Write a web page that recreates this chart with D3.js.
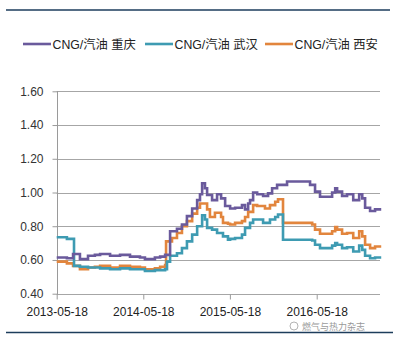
<!DOCTYPE html>
<html>
<head>
<meta charset="utf-8">
<script src="https://cdn.jsdelivr.net/npm/d3@7/dist/d3.min.js"></script>
<style>
html,body{margin:0;padding:0;background:#fff;}
svg{display:block;}
text{font-family:"Liberation Sans","Noto Sans CJK SC",sans-serif;}
</style>
</head>
<body>
<svg id="chart" width="393" height="344"></svg>
<script>
const dates = ["2013-05-18","2013-06-30","2013-07-13","2013-07-26","2013-07-30","2013-08-24","2013-09-27","2013-10-26","2013-11-17","2013-12-29",
"2014-02-09","2014-03-23","2014-05-04","2014-05-25","2014-07-06","2014-07-28","2014-08-18","2014-08-22","2014-08-26","2014-09-08",
"2014-09-16","2014-10-07","2014-10-28","2014-11-18","2014-12-10","2014-12-31","2015-01-12","2015-01-21","2015-02-02","2015-02-11",
"2015-02-23","2015-03-04","2015-03-16","2015-03-25","2015-04-11","2015-04-19","2015-04-28","2015-05-10","2015-05-19","2015-06-09",
"2015-07-08","2015-07-21","2015-08-03","2015-08-11","2015-08-24","2015-09-10","2015-10-05","2015-10-13","2015-10-26","2015-11-03",
"2015-11-12","2015-11-25","2015-12-03","2015-12-07","2015-12-28","2016-01-14","2016-04-20","2016-04-29","2016-05-11","2016-06-01",
"2016-07-22","2016-08-04","2016-08-12","2016-09-02","2016-09-23","2016-10-19","2016-11-13","2016-11-26","2016-12-08","2016-12-29",
"2017-01-19","2017-02-14"];

const chongqing = [0.615,0.61,0.61,0.635,0.635,0.605,0.625,0.63,0.635,0.625,
0.63,0.62,0.615,0.605,0.615,0.62,0.63,0.63,0.63,0.77,
0.77,0.785,0.81,0.86,0.905,0.955,0.99,1.055,1.025,0.985,
0.985,0.955,0.955,0.99,0.965,0.965,0.92,0.92,0.905,0.91,
0.925,0.90,0.935,0.955,1.0,0.99,0.98,0.98,0.995,0.995,
1.025,1.025,1.045,1.045,1.045,1.065,1.045,1.045,1.005,0.975,
1.0,1.025,1.005,0.98,0.99,0.955,0.99,0.965,0.91,0.89,
0.90,0.90];

const wuhan = [0.735,0.725,0.725,0.725,0.565,0.56,0.555,0.555,0.55,0.545,
0.55,0.545,0.545,0.535,0.54,0.54,0.545,0.545,0.59,0.625,
0.625,0.64,0.67,0.71,0.75,0.80,0.80,0.865,0.84,0.79,
0.79,0.78,0.78,0.76,0.76,0.74,0.74,0.72,0.725,0.73,
0.75,0.79,0.79,0.82,0.84,0.84,0.82,0.82,0.82,0.84,
0.84,0.855,0.855,0.87,0.72,0.72,0.72,0.715,0.69,0.67,
0.685,0.70,0.69,0.67,0.675,0.65,0.685,0.66,0.625,0.61,
0.615,0.615];

const xian = [0.59,0.58,0.58,0.565,0.565,0.545,0.555,0.56,0.565,0.555,
0.565,0.56,0.555,0.545,0.55,0.56,0.57,0.71,0.71,0.71,
0.73,0.76,0.80,0.83,0.875,0.91,0.935,0.935,0.935,0.90,
0.855,0.855,0.88,0.88,0.855,0.82,0.82,0.815,0.81,0.82,
0.83,0.855,0.885,0.885,0.925,0.92,0.92,0.905,0.905,0.925,
0.925,0.945,0.945,0.96,0.82,0.82,0.82,0.81,0.78,0.755,
0.77,0.795,0.78,0.755,0.76,0.73,0.77,0.74,0.69,0.67,
0.68,0.68];

const seriesNames = ["CNG/汽油 重庆","CNG/汽油 武汉","CNG/汽油 西安"];
const seriesColors = ["#6a5a9c","#3e9bb2","#e2853d"];
const yTicks = [0.40,0.60,0.80,1.00,1.20,1.40,1.60];
const xTickLabels = ["2013-05-18","2014-05-18","2015-05-18","2016-05-18"];

const parse = d3.timeParse("%Y-%m-%d");
const svg = d3.select("#chart");

const pLeft = 56.7, pRight = 380, pTop = 91.3, pBottom = 293.7;

// x: calibrate so that 2013-05-18 -> pLeft and 2016-05-18 -> 316.7
const xCal = d3.scaleTime().domain([parse("2013-05-18"), parse("2016-05-18")]).range([pLeft, 316.7]);
const x = d3.scaleTime().domain([parse("2013-05-18"), xCal.invert(pRight)]).range([pLeft, pRight]);
const y = d3.scaleLinear().domain([0.4, 1.6]).range([pBottom, pTop]);

// top and bottom rules
svg.append("line").attr("x1",6).attr("x2",390).attr("y1",10).attr("y2",10)
  .attr("stroke","#1d3d5c").attr("stroke-width",1.5);
svg.append("line").attr("x1",6).attr("x2",393).attr("y1",332.5).attr("y2",332.5)
  .attr("stroke","#1d3d5c").attr("stroke-width",1.5);

// gridlines
svg.append("g").selectAll("line").data(yTicks).join("line")
  .attr("x1", pLeft).attr("x2", pRight)
  .attr("y1", d => Math.round(y(d))+0.5).attr("y2", d => Math.round(y(d))+0.5)
  .attr("stroke", "#a6a6a6").attr("stroke-width", 1);

// y axis
const yAxis = d3.axisLeft(y).tickValues(yTicks).tickFormat(d3.format(".2f")).tickSize(5).tickPadding(9);
const gy = svg.append("g").attr("transform", `translate(${Math.round(pLeft)+0.5},0)`).call(yAxis);
gy.select(".domain").attr("stroke","#9a9a9a").attr("d", `M0,${Math.round(pTop)}V${Math.round(pBottom)+0.5}`);
gy.selectAll(".tick line").attr("stroke","#9a9a9a");
gy.selectAll(".tick text").attr("fill","#333").style("font-size","12px")
  .style("font-family","'Liberation Sans',sans-serif");

// x axis
const xAxis = d3.axisBottom(x).tickValues(xTickLabels.map(parse)).tickFormat(d3.timeFormat("%Y-%m-%d")).tickSize(5).tickPadding(8);
const gx = svg.append("g").attr("transform", `translate(0,${Math.round(pBottom)+0.5})`).call(xAxis);
gx.select(".domain").remove();
gx.selectAll(".tick line").attr("stroke","#9a9a9a");
gx.selectAll(".tick text").attr("fill","#222").style("font-size","12px")
  .style("font-family","'Liberation Sans',sans-serif");

// lines
const allSeries = [chongqing, wuhan, xian];
const line = d3.line().curve(d3.curveStepAfter)
  .x((d,i) => x(parse(dates[i]))).y(d => y(d));
[2,1,0].forEach(k => {
  svg.append("path").datum(allSeries[k])
    .attr("d", line).attr("fill","none")
    .attr("stroke", seriesColors[k]).attr("stroke-width", 2.6)
    .attr("stroke-linejoin","miter");
});

// legend
const legendX = [23, 145, 265];
const lg = svg.append("g");
seriesNames.forEach((n,i) => {
  lg.append("line").attr("x1", legendX[i]).attr("x2", legendX[i]+28)
    .attr("y1", 44).attr("y2", 44).attr("stroke", seriesColors[i]).attr("stroke-width", 2.6);
  lg.append("text").attr("x", legendX[i]+29.5).attr("y", 48.5)
    .attr("fill","#222").style("font-size","12.3px").text(n);
});

// watermark (nudged below the tick labels to keep both readable)
const wm = svg.append("g").attr("opacity",0.55);
wm.append("circle").attr("cx",294).attr("cy",326).attr("r",4).attr("fill","none").attr("stroke","#777").attr("stroke-width",1);
wm.append("text").attr("x",302).attr("y",330).attr("fill","#444")
  .style("font-size","9px").style("font-family","'Noto Sans CJK SC',sans-serif").text("燃气与热力杂志");
</script>
</body>
</html>
